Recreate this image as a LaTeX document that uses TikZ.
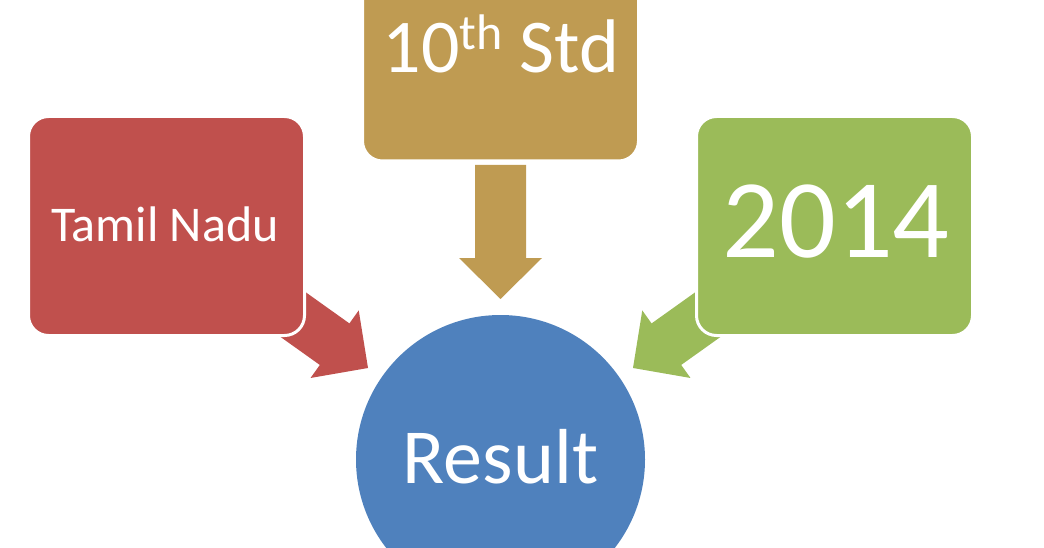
\documentclass[tikz,border=0pt]{standalone}
\usepackage{fontspec}
\setmainfont{Carlito}
\definecolor{redc}{HTML}{C0504D}
\definecolor{tanc}{HTML}{BF9B52}
\definecolor{greenc}{HTML}{9BBB59}
\definecolor{bluec}{HTML}{4F81BD}
\tikzset{
  sbox/.style={rectangle, rounded corners=20pt, draw=white, line width=3pt,
    minimum width=276pt, minimum height=219pt, inner sep=0pt},
  lbl/.style={text=white, inner sep=0pt, anchor=base},
  blockarrow/.pic={
    \fill (0,0) -- (-41,41.5) -- (-41,25.5) -- (-134,25.5) -- (-134,-25.5)
      -- (-41,-25.5) -- (-41,-41.5) -- cycle;
  }
}
\begin{document}
\begin{tikzpicture}[x=1pt,y=-1pt]
\useasboundingbox (0,0) rectangle (1044,548);
\clip (0,0) rectangle (1044,548);
% arrows (behind boxes)
\pic[color=tanc, rotate=-90] (tanarrow) at (500.5,299) {blockarrow};
\pic[color=redc, rotate=-35.5] (redarrow) at (368,368) {blockarrow};
\pic[color=greenc, rotate=-144.5] (greenarrow) at (633,368) {blockarrow};
% boxes
\node[sbox, fill=redc] (tn) at (166.5,226) {};
\node[sbox, fill=tanc] (std) at (500.5,51.5) {};
\node[sbox, fill=greenc] (yr) at (834.5,226) {};
\node[circle, fill=bluec, minimum size=289pt, inner sep=0pt] (res) at (500.5,459.5) {};
% labels
\node[lbl, font=\fontsize{50}{52}\selectfont] (tntext) at (165,241) {Tamil Nadu};
\node[lbl, font=\fontsize{76}{78}\selectfont] (stdtext) at (501,73)
  {10\raisebox{23pt}{\fontsize{50}{50}\selectfont th} Std};
\node[lbl, font=\fontsize{112}{115}\selectfont] (yrtext) at (836,257) {2014};
\node[lbl, font=\fontsize{78}{80}\selectfont] (restext) at (500.5,483) {Result};
\end{tikzpicture}
\end{document}
